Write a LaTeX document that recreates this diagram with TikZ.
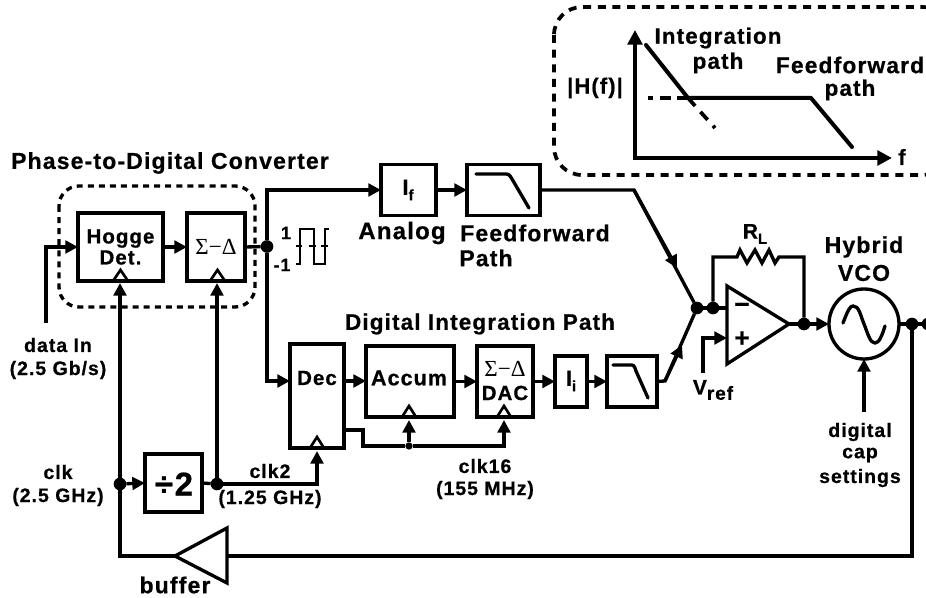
\documentclass[tikz,border=0pt]{standalone}
\usepackage{fontspec}
\setmainfont{Liberation Sans}[BoldFont={Liberation Sans Bold}]
\newfontfamily\lab{Liberation Sans Bold}[LetterSpace=5,FakeBold=0.6]
\newfontfamily\sym{Liberation Serif}
\usetikzlibrary{arrows.meta,calc}
\newcommand{\fs}[1]{\fontsize{\fpeval{#1*0.75}}{\fpeval{#1*0.8}}\selectfont}
\tikzset{
  wire/.style={line width=2.5pt},
  arr/.style={wire,-{Triangle[length=9.5pt,width=9.5pt]}},
  blk/.style={draw,line width=2.5pt,rectangle,inner sep=0pt,outer sep=0pt,align=center},
  wh/.style 2 args={minimum width=#1*0.75pt,minimum height=#2*0.75pt},
  dot/.style={circle,fill=black,inner sep=0pt,outer sep=0pt,minimum size=9.5pt},
  smalldot/.style={circle,fill=black,inner sep=0pt,outer sep=0pt,minimum size=5.5pt},
  txt/.style={font=\lab\fs{#1},inner sep=0pt,align=center},
  txt/.default=19.5,
  clock/.style={line width=2pt},
  dashbox/.style={line width=2.5pt,dash pattern=on 4.5pt off 3.8pt},
  axis/.style={line width=3pt,{Triangle[length=11pt,width=11pt]}-{Triangle[length=11pt,width=11pt]}},
}
\begin{document}
\begin{tikzpicture}[x=0.75pt,y=-0.75pt]
\useasboundingbox (0,0) rectangle (926,598);
\begin{scope}
\clip (0,0) rectangle (926,598);
% inset
\draw[line width=2.8pt,dash pattern=on 6pt off 5pt,rounded corners=21pt] (554,7) rectangle (950,175);
\coordinate (org) at (635,158);
\coordinate (ytop) at (635,30);
\coordinate (xend) at (892,158);
\draw[axis] (ytop) -- (org) -- (xend);
\coordinate (k1) at (688,98);
\coordinate (k2) at (811,98);
\draw[line width=3pt,line join=round,line cap=round] (646,45) -- (k1) -- (k2) -- (852,147);
\draw[line width=2.8pt,dash pattern=on 8pt off 5pt] (k1) -- (648,98);
\draw[line width=2.8pt,dash pattern=on 8pt off 6pt] (k1) -- (715,128);
\node[txt=22.4] (t1) at (718,38) {Integration};
\node[txt=22.4] (t2) at (718,63) {path};
\node[txt=22.8] (t3) at (850,65) {Feedforward};
\node[txt=22.4] (t4) at (850,90) {path};
\node[txt=22] (t5) at (595,88) {|H(f)|};
\node[txt=22] (t6) at (902,157) {f};
% PDC
\draw[dashbox,rounded corners=15pt] (59,186) rectangle (255,307);
\node[txt=23] (pdct) at (170,163) {Phase-to-Digital Converter};
\node[blk,wh={85}{68},font=\lab\fs{20.5}] (hogge) at (120.5,247) {Hogge\\[-0.6pt]Det.};
\node[blk,wh={58}{68}] (sd) at (216,247) {};
\node[inner sep=0pt,font=\sym\fs{23}] (sdt) at (216,247) {Σ−Δ};
\node[dot] (j1) at (267,246.5) {};
% forward
\node[blk,wh={55}{51}] (if) at (408.5,190) {};
\node[txt=22] (ift) at (408,190) {I\raisebox{-4pt}{\lab\fs{15}f}};
\node[blk,wh={73}{51}] (lpf1) at (503.5,190) {};
\draw[line width=2.5pt,line cap=round] (476,174) -- (503,174) .. controls (509,174) .. (512,179) -- (529,208);
\node[txt=24] (ana) at (402,233) {Analog};
\node[txt=23] (ffd) at (535,233) {Feedforward};
\node[txt=23] (pth) at (486,258) {Path};
% integration
\node[txt=22.5] (digt) at (480,324) {Digital Integration Path};
\node[blk,wh={54}{104}] (dec) at (317,396) {};
\node[txt=20.5] (dect) at (317,378) {Dec};
\node[blk,wh={88}{71}] (acc) at (410,381.5) {};
\node[txt=21.5] (acct) at (409,378) {Accum};
\node[blk,wh={56}{71}] (dac) at (505,381.5) {};
\node[inner sep=0pt,font=\sym\fs{23}] (dact1) at (505,369) {Σ−Δ};
\node[txt=20.5] (dact2) at (505,393) {DAC};
\node[blk,wh={32}{51}] (ii) at (571,381.5) {};
\node[txt=22] (iit) at (571,381) {I\raisebox{-4pt}{\lab\fs{15}i}};
\node[blk,wh={50}{51}] (lpf2) at (632,381.5) {};
\draw[line width=2.5pt,line cap=round] (613,365) -- (629,365) .. controls (634,365) .. (636,371) -- (648,398);
% opamp
\coordinate (oa) at (727,286);
\coordinate (ob) at (727,364);
\coordinate (oc) at (789,324);
\draw[line width=2.5pt,line join=miter] (oa) -- (ob) -- (oc) -- cycle;
\node[txt=26] (minus) at (742,308) {−};
\node[txt=26] (plus) at (742,339) {+};
\node[dot] (j2) at (697,308) {};
\node[dot] (j3) at (713,308) {};
\node[dot] (j4) at (804,324) {};
% VCO
\node[draw,circle,line width=2.5pt,minimum size=70*0.75pt,inner sep=0pt,outer sep=0pt] (vco) at (864,324) {};
\draw[line width=2.5pt,line cap=round] (843,323) .. controls (848,310) and (850,306) .. (853,306) .. controls (859,306) and (860,314) .. (864,324) .. controls (868,334) and (870,343) .. (875,343) .. controls (879,343) and (882,336) .. (885,326);
\node[txt=23] (hyb) at (864,247) {Hybrid};
\node[txt=23] (vcot) at (864,273) {VCO};
\node[dot] (j5) at (912,324) {};
\node[dot] (j6) at (928,324) {};
% labels
\node[txt=21] (rl) at (755,234) {R\raisebox{-4pt}{\lab\fs{15}L}};
\node[txt=21] (vref) at (713,390) {V\raisebox{-4pt}{\lab\fs{19}ref}};
\node[txt=19.5] (dig) at (860,432) {digital};
\node[txt=19.5] (cap) at (860,455) {cap};
\node[txt=19.5] (set) at (860,478) {settings};
\node[txt] (dat1) at (58,345) {data In};
\node[txt] (dat2) at (58,370) {(2.5 Gb/s)};
\node[txt] (clk1) at (58,472) {clk};
\node[txt] (clk2a) at (58,497) {(2.5 GHz)};
\node[txt] (clk2b) at (270,471) {clk2};
\node[txt] (clk2c) at (270,499) {(1.25 GHz)};
\node[txt] (clk16) at (485,466) {clk16};
\node[txt] (clk16b) at (485,490) {(155 MHz)};
\node[txt=23] (buft) at (175,585) {buffer};
% clock path
\node[dot] (j7) at (120,484) {};
\node[dot] (j8) at (217,484) {};
\node[blk,wh={57}{58}] (div) at (173.5,483) {};
\node[txt=33] (divt) at (174,484) {÷2};
\coordinate (bt) at (175,556);
\coordinate (bu) at (227,528);
\coordinate (bd) at (227,583);
\draw[line width=2.5pt] (bt) -- (bu) -- (bd) -- cycle;
\coordinate (buf) at (227,556);
% clock triangles
\draw[clock] (113,281) -- (120.5,270) -- (128,281);
\draw[clock] (210,281) -- (217.5,270) -- (225,281);
\draw[clock] (310,448) -- (317,437) -- (324,448);
\draw[clock] (402,417) -- (409,406) -- (416,417);
\draw[clock] (497,417) -- (504,406) -- (511,417);
% wires
\coordinate (din) at (46,323);
\coordinate (hclk) at (120,283);
\coordinate (sclk) at (217,283);
\coordinate (dclk) at (317,451);
\coordinate (aclk) at (409,420);
\coordinate (cclk) at (504,420);
\draw[arr] (din) |- (hogge.west);
\draw[arr] (hogge.east) -- (sd.west);
\draw[wire] (sd.east) -- (j1);
\draw[arr] (j1) |- (if.west);
\draw[arr] (if.east) -- (lpf1.west);
\draw[arr] (j1) |- ($(dec.west)+(0,-15)$);
\draw[arr] ($(dec.east)+(0,-15)$) -- ($(acc.west)+(0,-0.5)$);
\draw[arr] (acc.east) -- (dac.west);
\draw[arr] (dac.east) -- (ii.west);
\draw[arr] (ii.east) -- (lpf2.west);
\coordinate (a1) at (634,190);
\coordinate (a1m) at (677,268);
\draw[wire] (lpf1.east) -- (a1) -- (j2);
\draw[arr] (a1) -- (a1m);
\coordinate (a2) at (665,381);
\coordinate (a2m) at (682,345);
\draw[wire] (lpf2.east) -- (a2) -- (j2);
\draw[arr] (a2) -- (a2m);
\draw[wire] (j2) -- (j3) -- (oa |- j3);
\coordinate (vr) at (703,373);
\draw[arr] (vr) |- (727,338);
\coordinate (r1) at (737,257);
\coordinate (r2) at (779,257);
\draw[wire,line join=miter] (j3) |- (r1) -- (740,250) -- (747,263) -- (755,250) -- (762,263) -- (769,250) -- (775,263) -- (r2) -| (j4);
\draw[wire] (oc) -- (j4);
\draw[arr] (j4) -- (vco.west);
\draw[wire] (vco.east) -- (j6);
\coordinate (capa) at (864,412);
\draw[arr] (capa) -- (vco.south);
\draw[wire] (j5) |- (buf);
\draw[wire] (bt) -| (j7);
\draw[arr] (j7) -- (hclk);
\draw[arr] (j7) -- (div.west);
\draw[wire] (div.east) -- (j8);
\draw[arr] (j8) -- (sclk);
\draw[arr] (j8) -| (dclk);
\coordinate (d0) at (344,430);
\coordinate (d1) at (363,430);
\coordinate (d2) at (363,446);
\node[smalldot] (j9) at (409,446) {};
\draw[wire] (d0) -- (d1) -- (d2) -- (j9);
\draw[arr] (j9) -- (aclk);
\draw[arr] (j9) -| (cclk);
% square wave
\node[txt=18] (one) at (286,233) {1};
\node[txt=18] (mone) at (282,265) {-1};
\draw[line width=2.2pt,line join=miter] (296,264) -- (300,264) -- (300,229) -- (314,229) -- (314,264) -- (325,264) -- (325,229) -- (329,229);
\draw[line width=2.2pt] (296,246) -- (302,246) (309,246) -- (316,246) (321,246) -- (328,246);
\end{scope}
\end{tikzpicture}
\end{document}
